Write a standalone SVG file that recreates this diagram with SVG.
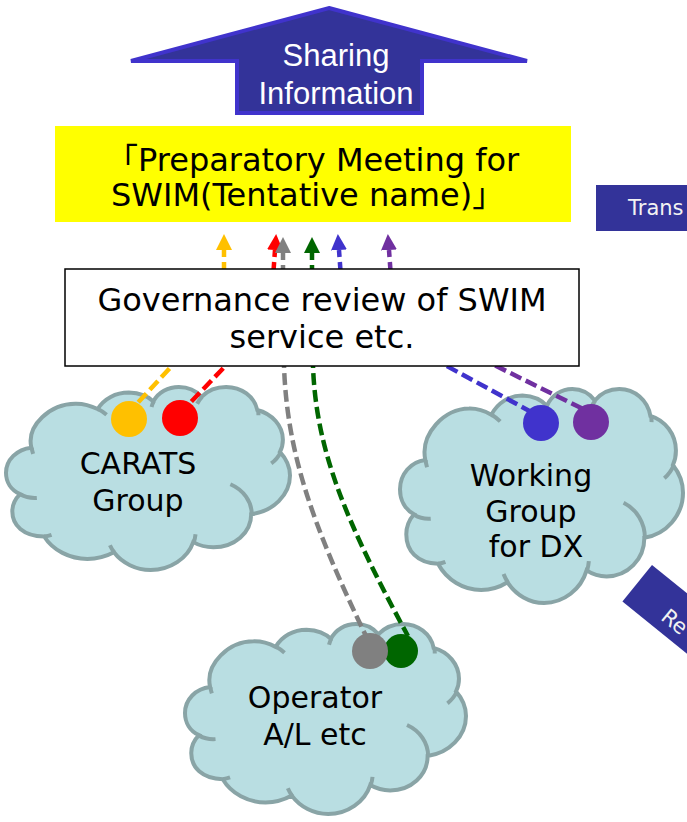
<svg xmlns="http://www.w3.org/2000/svg" xmlns:xlink="http://www.w3.org/1999/xlink" width="687" height="822" viewBox="0 0 687 822">
<style>
.cloud{fill:#B9DEE2;stroke:#89A4A6;stroke-width:4}
.crease{fill:none;stroke:#89A4A6;stroke-width:4}
.ctext{font-family:"DejaVu Sans","Noto Sans",sans-serif;font-size:30px;fill:#000;text-anchor:middle}
.big{font-family:"DejaVu Sans","Noto Sans CJK JP",sans-serif;font-size:32px;fill:#000}
.tag{fill:#333399}
.tagtext{font-family:"DejaVu Sans",sans-serif;font-size:21px;fill:#F2F2F2}
.dash{fill:none;stroke-width:4.5;stroke-dasharray:12 5}
.up{stroke-dashoffset:5}
</style>
<defs>
<path id="cloudShape" vector-effect="non-scaling-stroke" d="M1930,7160 C1530,4490 3400,1970 5270,1970 C5860,1950 6470,2210 6970,2600 C7450,1390 8340,650 9340,650 C10004,690 10710,930 11210,1700 C11570,630 12330,0 13150,0 C13840,0 14470,460 14870,1160 C15330,440 16020,0 16740,0 C17910,0 18900,1130 19110,2710 C20240,3160 21060,4580 21060,6220 C21060,6720 21000,7200 20830,7660 C21310,8460 21600,9450 21600,10460 C21600,12750 20310,14680 18650,15010 C18650,17200 17370,18920 15770,18920 C15220,18920 14700,18710 14240,18310 C13820,20220 12490,21600 11000,21600 C9890,21600 8840,20790 8210,19510 C7620,20000 6910,20290 6190,20290 C4850,20290 3570,19280 2900,17640 C1300,17600 480,16300 480,14660 C480,13900 690,13210 1070,12640 C380,12160 0,11210 0,10120 C0,8590 840,7330 1930,7160 Z"/>
<path id="cloudCreases" vector-effect="non-scaling-stroke" d="M2346,13088 A2172,2972 0 0 1 1080,12690 M3464,17450 A2180,2959 0 0 1 2910,17640 M8239,19545 A3376,4608 0 0 1 7905,18675 M14414,17376 A3376,4608 0 0 1 14280,18330 M17065,11477 A2893,3934 0 0 1 18690,15045 M20899,7677 A2667,3637 0 0 1 20175,9016 M19162,2713 A2429,3298 0 0 1 19200,3345 M14539,1976 A2429,3298 0 0 1 14911,1169 M11071,2360 A2183,2973 0 0 1 11250,1665 M7000,2596 A3377,4595 0 0 1 7649,3269 M2064,7895 A3377,4595 0 0 1 1950,7186"/>
<marker id="ah-orange" viewBox="0 0 16 16" refX="0" refY="8" markerWidth="16" markerHeight="16" markerUnits="userSpaceOnUse" orient="auto-start-reverse"><path d="M0,0 L16,8 L0,16 z" fill="#FFC000"/></marker>
<marker id="ah-red" viewBox="0 0 16 16" refX="0" refY="8" markerWidth="16" markerHeight="16" markerUnits="userSpaceOnUse" orient="auto-start-reverse"><path d="M0,0 L16,8 L0,16 z" fill="#FF0000"/></marker>
<marker id="ah-gray" viewBox="0 0 16 16" refX="0" refY="8" markerWidth="16" markerHeight="16" markerUnits="userSpaceOnUse" orient="auto-start-reverse"><path d="M0,0 L16,8 L0,16 z" fill="#808080"/></marker>
<marker id="ah-green" viewBox="0 0 16 16" refX="0" refY="8" markerWidth="16" markerHeight="16" markerUnits="userSpaceOnUse" orient="auto-start-reverse"><path d="M0,0 L16,8 L0,16 z" fill="#006600"/></marker>
<marker id="ah-blue" viewBox="0 0 16 16" refX="0" refY="8" markerWidth="16" markerHeight="16" markerUnits="userSpaceOnUse" orient="auto-start-reverse"><path d="M0,0 L16,8 L0,16 z" fill="#4033CC"/></marker>
<marker id="ah-purple" viewBox="0 0 16 16" refX="0" refY="8" markerWidth="16" markerHeight="16" markerUnits="userSpaceOnUse" orient="auto-start-reverse"><path d="M0,0 L16,8 L0,16 z" fill="#7030A0"/></marker>
</defs>

<g id="sharing-information">
<polygon points="329,8 527,61 422,61 422,113 237,113 237,61 131,61" fill="#333399" stroke="#4033CC" stroke-width="4"/>
<text x="336" y="66" font-family="'Liberation Sans',Arial,sans-serif" font-size="31" fill="#FFFFFF" text-anchor="middle">Sharing</text>
<text x="336" y="104" font-family="'Liberation Sans',Arial,sans-serif" font-size="31" fill="#FFFFFF" text-anchor="middle">Information</text>
</g>

<g id="preparatory-meeting">
<rect x="55" y="126" width="516" height="96" fill="#FFFF00"/>
<text class="big" x="106" y="171">「Preparatory Meeting for</text>
<text class="big" x="111" y="206">SWIM(Tentative name)」</text>
</g>

<g id="trans-tag">
<rect class="tag" x="596" y="185" width="100" height="46"/>
<text class="tagtext" x="628" y="215">Trans</text>
</g>

<g id="re-tag" transform="translate(652,565) rotate(39)">
<rect class="tag" x="0" y="0" width="200" height="47"/>
<text class="tagtext" x="40" y="37">Re</text>
</g>

<g id="carats-group">
<g transform="translate(6,387) scale(0.013148,0.008472)">
<use xlink:href="#cloudShape" class="cloud"/>
<use xlink:href="#cloudCreases" class="crease"/>
</g>
<text class="ctext" x="138" y="474">CARATS</text>
<text class="ctext" x="138" y="511">Group</text>
</g>

<g id="working-group-dx">
<g transform="translate(400,389) scale(0.013102,0.009907)">
<use xlink:href="#cloudShape" class="cloud"/>
<use xlink:href="#cloudCreases" class="crease"/>
</g>
<text class="ctext" x="531" y="486">Working</text>
<text class="ctext" x="531" y="522">Group</text>
<text class="ctext" x="536" y="557">for DX</text>
</g>

<g id="operator-al">
<g transform="translate(185,624) scale(0.013009,0.008796)">
<use xlink:href="#cloudShape" class="cloud"/>
<use xlink:href="#cloudCreases" class="crease"/>
</g>
<text class="ctext" x="315" y="708">Operator</text>
<text class="ctext" x="315" y="745">A/L etc</text>
</g>

<g id="connectors">
<path class="dash" stroke="#FFC000" d="M181,356 L133,408"/>
<path class="dash" stroke="#FF0000" d="M235,356 L188,405"/>
<path class="dash" stroke="#808080" d="M283,356 L284,366 C287,450 310,520 366,636"/>
<path class="dash" stroke="#006600" d="M313,356 L313,366 C316,450 345,520 408,636"/>
<path class="dash" stroke="#4033CC" d="M432,358 L535,414"/>
<path class="dash" stroke="#7030A0" d="M480,358 L585,410"/>
<path class="dash up" stroke="#FFC000" d="M224,250 L224,278" marker-start="url(#ah-orange)"/>
<path class="dash up" stroke="#FF0000" d="M275,250 L273,278" marker-start="url(#ah-red)"/>
<path class="dash up" stroke="#808080" d="M283,253 L283,278" marker-start="url(#ah-gray)"/>
<path class="dash up" stroke="#006600" d="M312,253 L312,278" marker-start="url(#ah-green)"/>
<path class="dash up" stroke="#4033CC" d="M339,250 L341,278" marker-start="url(#ah-blue)"/>
<path class="dash up" stroke="#7030A0" d="M389,250 L391,278" marker-start="url(#ah-purple)"/>
<circle cx="129" cy="419" r="18" fill="#FFC000"/>
<circle cx="180" cy="418" r="18" fill="#FF0000"/>
<circle cx="541" cy="423" r="18" fill="#4033CC"/>
<circle cx="591" cy="422" r="18" fill="#7030A0"/>
<circle cx="401" cy="651" r="17" fill="#006600"/>
<circle cx="370" cy="651" r="18" fill="#808080"/>
</g>

<g id="governance-review">
<rect x="65" y="269" width="514" height="97" fill="#FFFFFF" stroke="#000000" stroke-width="1.5"/>
<text class="big" x="322" y="311" text-anchor="middle">Governance review of SWIM</text>
<text class="big" x="322" y="348" text-anchor="middle">service etc.</text>
</g>
</svg>
